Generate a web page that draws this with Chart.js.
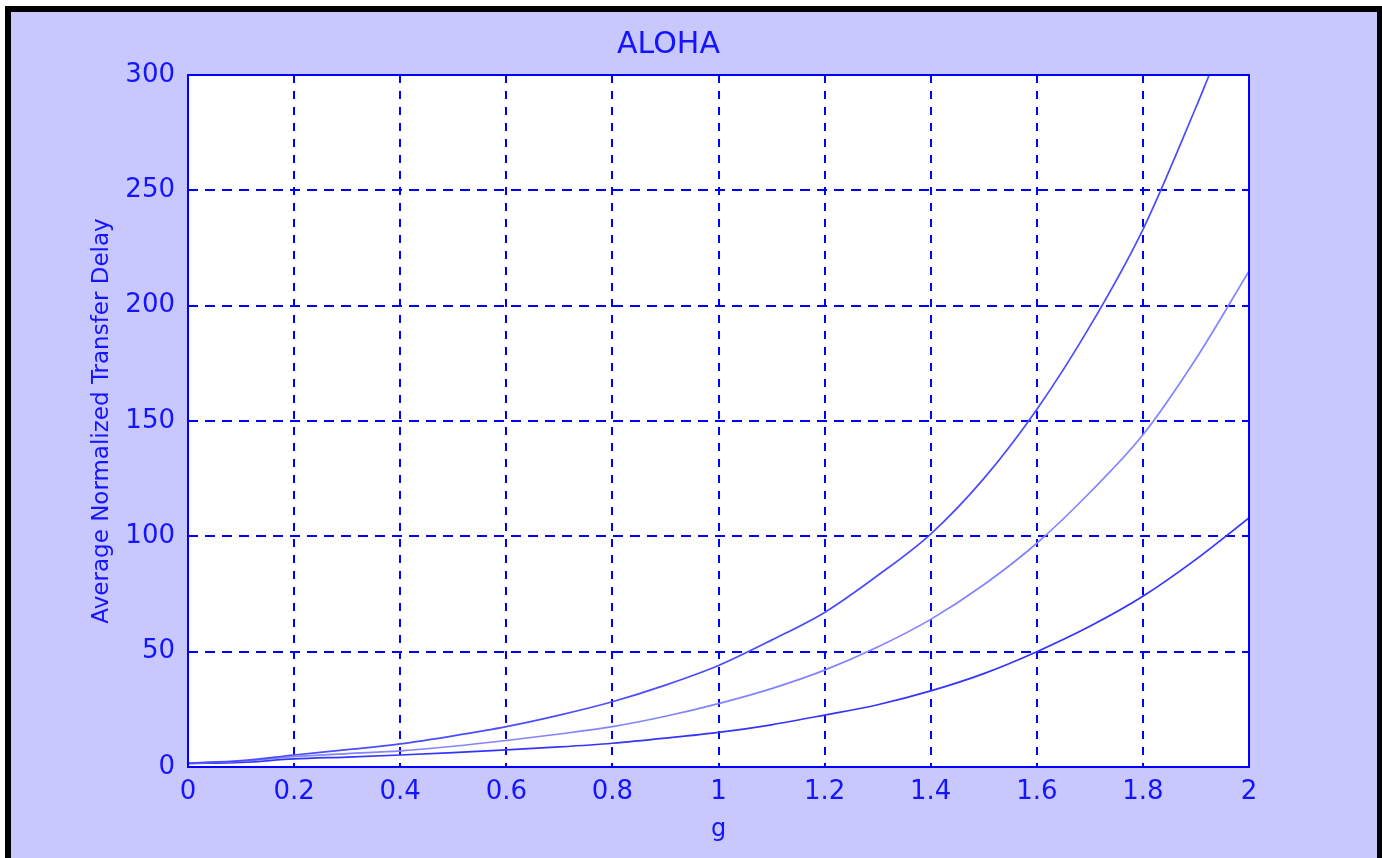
<!DOCTYPE html>
<html>
<head>
<meta charset="utf-8">
<title>ALOHA</title>
<script src="https://cdn.jsdelivr.net/npm/chart.js@4.4.1/dist/chart.umd.min.js"></script>
<style>
    html, body { margin: 0; padding: 0; background: #ffffff; }
    body { width: 1382px; height: 858px; position: relative; overflow: hidden; }
    .frame {
        position: absolute; left: 5px; top: 6px; right: 0; bottom: 0;
        border-top: 6px solid #000; border-left: 6px solid #000; border-right: 5px solid #000;
        background: #c8c8ff;
    }
    .wrap { position: absolute; left: 0; top: 0; width: 1382px; height: 858px; }
</style>
</head>
<body>
<div class="frame"></div>
<div class="wrap"><canvas id="alohaChart"></canvas></div>
<script>
// offered load g
const gValues = [0, 0.1, 0.2, 0.3, 0.4, 0.5, 0.6, 0.7, 0.8, 0.9, 1.0,
                 1.1, 1.2, 1.3, 1.4, 1.5, 1.6, 1.7, 1.8, 1.9, 2.0];
// top curve leaves the plot at ~1.92
const gTop = [0, 0.1, 0.2, 0.3, 0.4, 0.5, 0.6, 0.7, 0.8, 0.9, 1.0,
              1.1, 1.2, 1.3, 1.4, 1.5, 1.6, 1.7, 1.8, 1.9, 1.925];

const delayTop = [1.7, 2.8, 5.2, 7.5, 10, 13.5, 17.5, 22.5, 28.3, 35.5, 44,
                  55, 67, 83, 101, 125, 155, 191, 233, 286, 300];
const delayMid = [1.6, 2.5, 4.5, 5.8, 7, 9, 11.5, 14.3, 17.5, 22, 27.5,
                  34, 42, 52, 64, 79, 97, 119, 144, 177, 215];
const delayLow = [1.5, 2.0, 3.5, 4.3, 5.2, 6.2, 7.4, 8.7, 10.3, 12.5, 15,
                  18.3, 22.5, 27, 33, 40.5, 50, 61, 74, 90, 108];

const xTicks = [0, 0.2, 0.4, 0.6, 0.8, 1, 1.2, 1.4, 1.6, 1.8, 2];
const yTicks = [0, 50, 100, 150, 200, 250, 300];

const BLUE = '#1414ff';
const FONT = 'DejaVu Sans';

function toPoints(xs, ys) {
    return xs.map((x, i) => ({ x: x, y: ys[i] }));
}

// white plot area + matlab style box
const plotBox = {
    id: 'plotBox',
    beforeDraw(chart) {
        const { ctx, chartArea } = chart;
        ctx.save();
        ctx.fillStyle = '#ffffff';
        ctx.fillRect(chartArea.left, chartArea.top, chartArea.width, chartArea.height);
        ctx.restore();
    },
    afterDatasetsDraw(chart) {
        const { ctx, chartArea } = chart;
        ctx.save();
        ctx.strokeStyle = '#0000ff';
        ctx.lineWidth = 2;
        ctx.strokeRect(chartArea.left, chartArea.top, chartArea.width, chartArea.height);
        ctx.restore();
    }
};

const lineStyle = {
    pointRadius: 0,
    borderWidth: 1.7,
    fill: false,
    cubicInterpolationMode: 'monotone'
};

new Chart(document.getElementById('alohaChart').getContext('2d'), {
    type: 'line',
    data: {
        datasets: [
            Object.assign({ label: 'top', data: toPoints(gTop, delayTop), borderColor: '#4c4cff' }, lineStyle),
            Object.assign({ label: 'mid', data: toPoints(gValues, delayMid), borderColor: '#8484ff' }, lineStyle),
            Object.assign({ label: 'low', data: toPoints(gValues, delayLow), borderColor: '#3434ff' }, lineStyle)
        ]
    },
    options: {
        responsive: true,
        maintainAspectRatio: false,
        animation: false,
        layout: { padding: { left: 88, right: 133, top: 0, bottom: 0 } },
        scales: {
            x: {
                type: 'linear',
                min: 0,
                max: 2,
                afterBuildTicks: (scale) => { scale.ticks = xTicks.map(v => ({ value: v })); },
                afterFit: (scale) => { scale.height = 91; },
                ticks: {
                    color: BLUE,
                    font: { family: FONT, size: 26 },
                    padding: 10,
                    maxRotation: 0,
                    callback: (v) => String(v)
                },
                grid: { color: '#0000ff', lineWidth: 2, drawTicks: false },
                border: { display: false, dash: [8, 8] },
                title: {
                    display: true,
                    text: 'g',
                    color: BLUE,
                    font: { family: FONT, size: 24 },
                    padding: { top: 0, bottom: 14 }
                }
            },
            y: {
                type: 'linear',
                min: 0,
                max: 300,
                afterBuildTicks: (scale) => { scale.ticks = yTicks.map(v => ({ value: v })); },
                afterFit: (scale) => { scale.width = 100; },
                ticks: {
                    color: BLUE,
                    font: { family: FONT, size: 26 },
                    padding: 13
                },
                grid: { color: '#0000ff', lineWidth: 2, drawTicks: false },
                border: { display: false, dash: [10, 7] },
                title: {
                    display: true,
                    text: 'Average Normalized Transfer Delay',
                    color: BLUE,
                    font: { family: FONT, size: 23 },
                    padding: 0
                }
            }
        },
        plugins: {
            legend: { display: false },
            tooltip: { enabled: false },
            title: {
                display: true,
                text: 'ALOHA',
                color: BLUE,
                font: { family: FONT, size: 30, weight: 'normal' },
                padding: { top: 27, bottom: 12 }
            }
        }
    },
    plugins: [plotBox]
});
</script>
</body>
</html>
